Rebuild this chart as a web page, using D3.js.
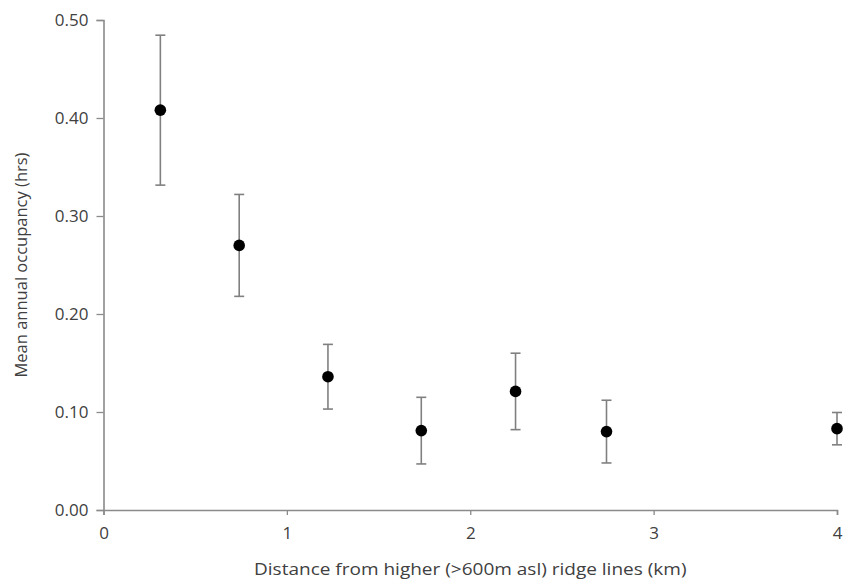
<!DOCTYPE html>
<html>
<head>
<meta charset="utf-8">
<script src="https://cdn.jsdelivr.net/npm/d3@7"></script>
<style>
  html, body { margin: 0; padding: 0; background: #fff; }
  svg { display: block; }
  text { font-family: "Open Sans", "Liberation Sans", sans-serif; fill: #404040; }
</style>
</head>
<body>
<svg id="chart" width="854" height="582"></svg>
<script>
// Data
const distances = [0.31, 0.74, 1.224, 1.733, 2.247, 2.743, 4.0];
const means     = [0.408, 0.270, 0.136, 0.081, 0.121, 0.080, 0.083];
const errors    = [0.0765, 0.052, 0.033, 0.034, 0.039, 0.032, 0.0165];
const xTicks = [0, 1, 2, 3, 4];
const yTicks = [0, 0.1, 0.2, 0.3, 0.4, 0.5];
const xTitle = "Distance from higher (>600m asl) ridge lines (km)";
const yTitle = "Mean annual occupancy (hrs)";

const svg = d3.select("#chart");
const margin = { left: 103.5, right: 854 - 837, top: 20, bottom: 582 - 510 };
const W = 854, H = 582;

const x = d3.scaleLinear().domain([0, 4]).range([margin.left, W - margin.right]);
const y = d3.scaleLinear().domain([0, 0.5]).range([H - margin.bottom, margin.top]);

const axisColor = "#8a8a8a";

const xAxis = svg.append("g")
  .attr("transform", `translate(0,${y(0)})`)
  .call(d3.axisBottom(x).tickValues(xTicks).tickFormat(d3.format("d")).tickSize(5).tickSizeOuter(5).tickPadding(12));
const yAxis = svg.append("g")
  .attr("transform", `translate(${x(0)},0)`)
  .call(d3.axisLeft(y).tickValues(yTicks).tickFormat(d3.format(".2f")).tickSize(7).tickSizeOuter(7).tickPadding(8));

[xAxis, yAxis].forEach(g => {
  g.select(".domain").attr("stroke", axisColor).attr("stroke-width", 1.6);
  g.selectAll(".tick line").attr("stroke", axisColor).attr("stroke-width", 1.3);
  g.selectAll(".tick text").attr("fill", "#404040").style("font-size", "17px")
    .style("font-family", "\"Open Sans\", sans-serif");
});

// Error bars
const errColor = "#808080";
const eb = svg.append("g").selectAll("g").data(distances.map((d, i) => ({ x: d, m: means[i], e: errors[i] })))
  .join("g");
eb.append("line")
  .attr("x1", d => x(d.x)).attr("x2", d => x(d.x))
  .attr("y1", d => y(d.m + d.e)).attr("y2", d => y(d.m - d.e))
  .attr("stroke", errColor).attr("stroke-width", 1.6);
eb.append("line")
  .attr("x1", d => x(d.x) - 5).attr("x2", d => x(d.x) + 5)
  .attr("y1", d => y(d.m + d.e)).attr("y2", d => y(d.m + d.e))
  .attr("stroke", errColor).attr("stroke-width", 1.6);
eb.append("line")
  .attr("x1", d => x(d.x) - 5).attr("x2", d => x(d.x) + 5)
  .attr("y1", d => y(d.m - d.e)).attr("y2", d => y(d.m - d.e))
  .attr("stroke", errColor).attr("stroke-width", 1.6);

// Points
svg.append("g").selectAll("circle").data(distances.map((d, i) => ({ x: d, m: means[i] })))
  .join("circle")
  .attr("cx", d => x(d.x)).attr("cy", d => y(d.m))
  .attr("r", 5.8).attr("fill", "#000");

// Axis titles
const xt = svg.append("text")
  .attr("text-anchor", "middle").style("font-size", "17px")
  .text(xTitle);
const xw = xt.node().getComputedTextLength();
const sx = 433 / xw;
xt.attr("transform", `translate(${(x(0) + x(4)) / 2},575) scale(${sx},1)`);

svg.append("text")
  .attr("transform", `translate(27,${(y(0) + y(0.5)) / 2}) rotate(-90)`)
  .attr("text-anchor", "middle").style("font-size", "16.5px")
  .text(yTitle);
</script>
</body>
</html>
